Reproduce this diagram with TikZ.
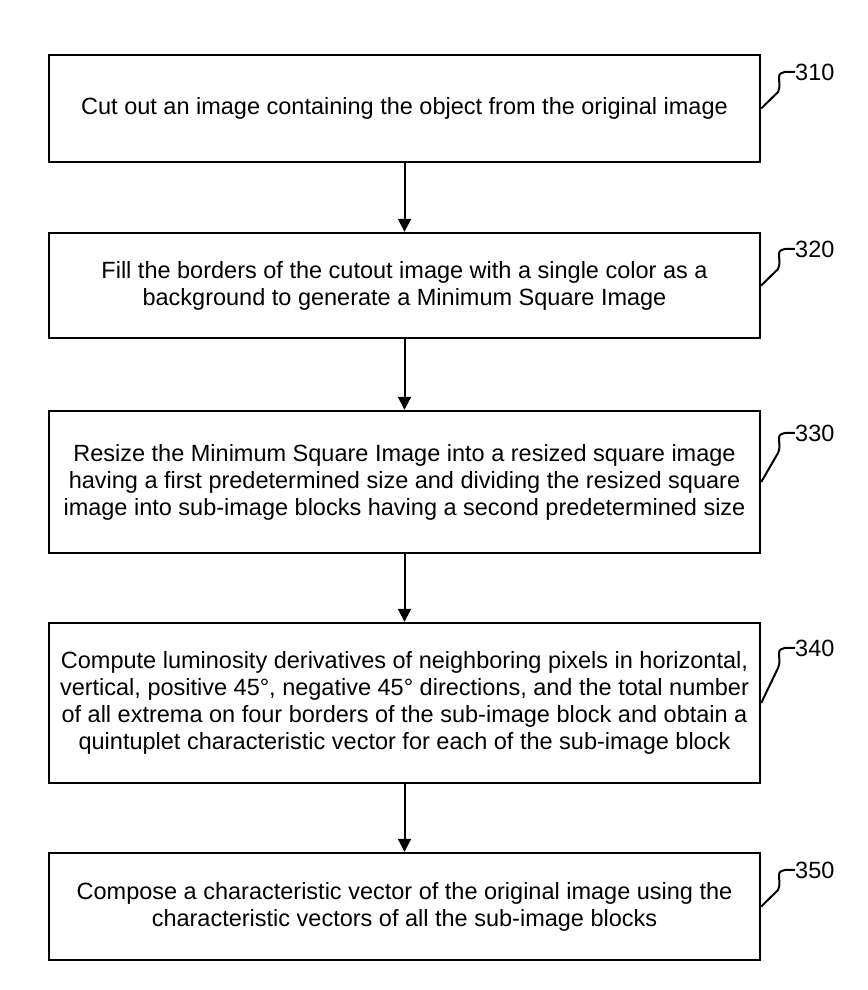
\documentclass[tikz,border=0pt]{standalone}
\usepackage{fontspec}
\setmainfont{Liberation Sans}
\usepackage{tikz}
\usetikzlibrary{positioning,arrows.meta,calc}
\tikzset{
    stepbox/.style={rectangle,draw,line width=2.4pt,minimum width=711pt,align=center,
        font=\fontsize{23.5}{27}\selectfont,inner sep=4pt},
    flow/.style={-{Triangle[length=13pt,width=13pt]},line width=2pt},
    refnum/.style={anchor=west,inner sep=0pt,font=\fontsize{23.5}{25}\selectfont},
    leader/.style={line width=2pt},
}
\begin{document}
\begin{tikzpicture}[x=1pt,y=-1pt]
\useasboundingbox (0,0) rectangle (867,990);
\node[stepbox,minimum height=107pt] (s310) at (404.5,108.5) {Cut out an image containing the object from the original image};
\node[stepbox,minimum height=105pt] (s320) at (404.5,285.5) {Fill the borders of the cutout image with a single color as a\\background to generate a Minimum Square Image};
\node[stepbox,minimum height=142pt] (s330) at (404.5,482) {Resize the Minimum Square Image into a resized square image\\having a first predetermined size and dividing the resized square\\image into sub-image blocks having a second predetermined size};
\node[stepbox,minimum height=160pt] (s340) at (404.5,703) {Compute luminosity derivatives of neighboring pixels in horizontal,\\vertical, positive 45°, negative 45° directions, and the total number\\of all extrema on four borders of the sub-image block and obtain a\\quintuplet characteristic vector for each of the sub-image block};
\node[stepbox,minimum height=107pt] (s350) at (404.5,906.5) {Compose a characteristic vector of the original image using the\\characteristic vectors of all the sub-image blocks};

\draw[flow] (s310) -- (s320);
\draw[flow] (s320) -- (s330);
\draw[flow] (s330) -- (s340);
\draw[flow] (s340) -- (s350);

% reference numerals
\node[refnum] (n310) at (795,72) {310};
\node[refnum] (n320) at (795,249) {320};
\node[refnum] (n330) at (795,433) {330};
\node[refnum] (n340) at (795,648) {340};
\node[refnum] (n350) at (795,870) {350};
\foreach \s in {310,320,330,340,350}
  \draw[leader] (s\s.east) -- ($(n\s.west)+(-17,20)$) to[out=65,in=-90] ($(n\s.west)+(-16,5)$)
    to[out=90,in=180] (n\s.west);
\end{tikzpicture}
\end{document}
